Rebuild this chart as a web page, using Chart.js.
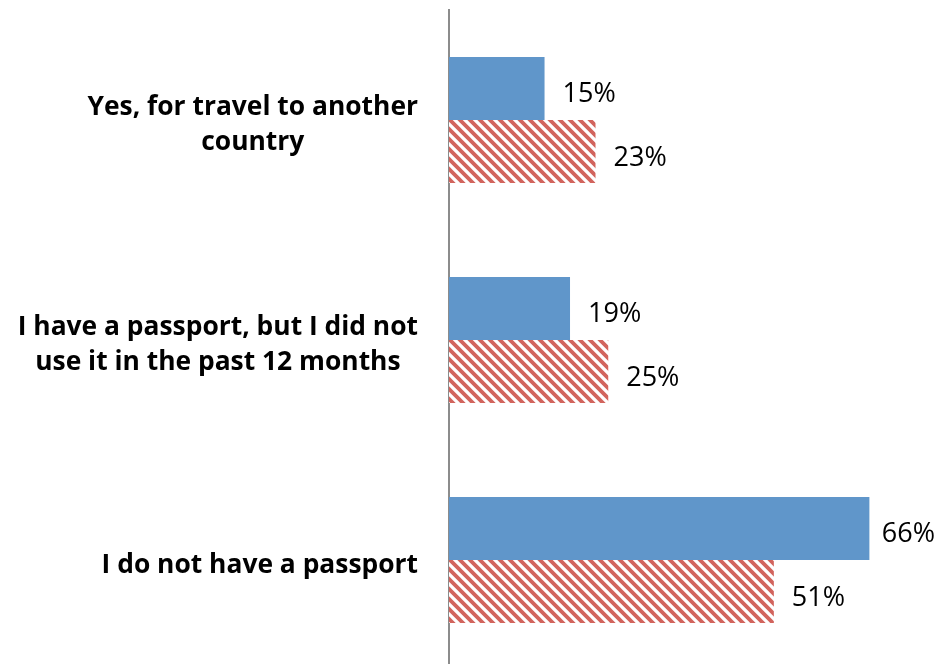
<!DOCTYPE html>
<html>
<head>
<meta charset="utf-8">
<script src="https://cdn.jsdelivr.net/npm/chart.js@4/dist/chart.umd.min.js"></script>
<style>
  html, body { margin: 0; padding: 0; background: #fff; overflow: hidden; }
  #wrap { width: 938px; height: 670px; }
</style>
</head>
<body>
<div id="wrap"><canvas id="barChart" width="938" height="670"></canvas></div>
<script>
    /*global Chart*/
    var categories = [
        ["Yes, for travel to another", "country"],
        ["I have a passport, but I did not", "use it in the past 12 months"],
        ["I do not have a passport"]
    ];
    var seriesBlue = [15, 19, 66];
    var seriesRed = [23, 25, 51];

    // diagonal hatch for the second series
    function makeHatch(color) {
        var c = document.createElement("canvas");
        c.width = 10; c.height = 10;
        var g = c.getContext("2d");
        g.fillStyle = "#fff";
        g.fillRect(0, 0, 10, 10);
        g.strokeStyle = color;
        g.lineWidth = 3.8;
        g.beginPath();
        g.moveTo(-5, -5); g.lineTo(15, 15);
        g.moveTo(-5, 5); g.lineTo(5, 15);
        g.moveTo(5, -5); g.lineTo(15, 5);
        g.stroke();
        return g.createPattern(c, "repeat");
    }

    // category labels: block right-aligned to the axis, lines centred inside the block
    var categoryLabels = {
        id: "categoryLabels",
        afterDraw: function (chart) {
            var ctx = chart.ctx;
            var yScale = chart.scales.y;
            var right = yScale.right - 31;
            ctx.save();
            ctx.font = "bold 26.4px 'Open Sans'";
            ctx.fillStyle = "#000";
            ctx.textAlign = "center";
            ctx.textBaseline = "middle";
            categories.forEach(function (lines, i) {
                var w = 0;
                lines.forEach(function (l) { w = Math.max(w, ctx.measureText(l).width); });
                var cx = right - w / 2;
                var cy = yScale.getPixelForValue(i);
                lines.forEach(function (l, k) {
                    ctx.fillText(l, cx, cy + (k - (lines.length - 1) / 2) * 35 + 5);
                });
            });
            ctx.restore();
        }
    };

    var valueLabels = {
        id: "valueLabels",
        afterDatasetsDraw: function (chart) {
            var ctx = chart.ctx;
            var edge = chart.width - 3;
            ctx.save();
            ctx.font = "27px 'Open Sans'";
            ctx.fillStyle = "#000";
            ctx.textAlign = "left";
            ctx.textBaseline = "alphabetic";
            chart.data.datasets.forEach(function (ds, i) {
                chart.getDatasetMeta(i).data.forEach(function (bar, j) {
                    var txt = ds.data[j] + "%";
                    var x = bar.x + 18;
                    var w = ctx.measureText(txt).width;
                    if (x + w > edge) x = edge - w;
                    ctx.fillText(txt, x, bar.y + 14);
                });
            });
            ctx.restore();
        }
    };

    var barData = {
        labels: categories,
        datasets: [
            {
                label: "Blue",
                backgroundColor: "#6096CA",
                data: seriesBlue,
                barPercentage: 1,
                categoryPercentage: 0.573
            },
            {
                label: "Red",
                backgroundColor: makeHatch("#D2645D"),
                data: seriesRed,
                barPercentage: 1,
                categoryPercentage: 0.573
            }
        ]
    };

    var barOptions = {
        indexAxis: "y",
        responsive: false,
        animation: false,
        layout: { padding: { top: 10, right: 3, bottom: 0, left: 0 } },
        plugins: { legend: { display: false }, tooltip: { enabled: false } },
        scales: {
            x: { display: false, min: 0, max: 76.3 },
            y: {
                grid: { display: false, drawTicks: false },
                border: { display: true, color: "#8c8c8c", width: 2 },
                ticks: { display: false },
                afterFit: function (scale) {
                    scale.width = 449;
                    scale.paddingTop = 0;
                    scale.paddingBottom = 0;
                }
            }
        }
    };

    var ctx = document.getElementById("barChart").getContext("2d");
    new Chart(ctx, { type: "bar", data: barData, options: barOptions, plugins: [valueLabels, categoryLabels] });
</script>
</body>
</html>
